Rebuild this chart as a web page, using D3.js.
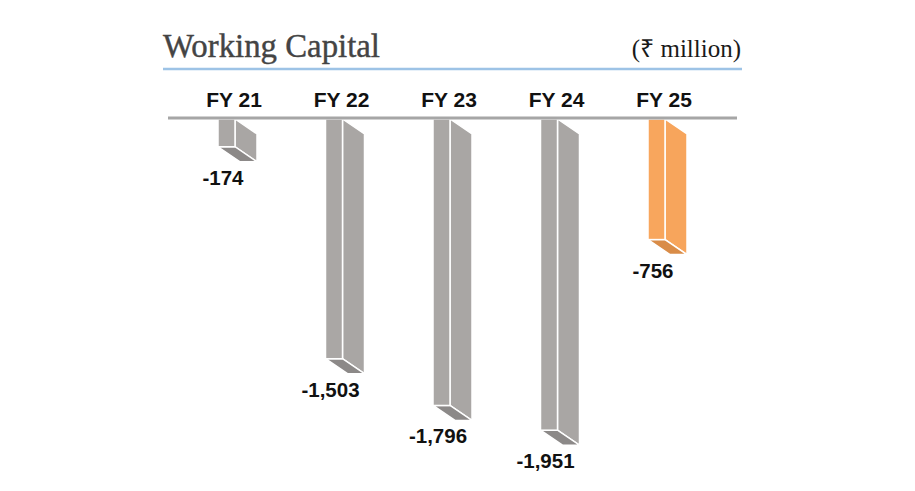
<!DOCTYPE html>
<html>
<head>
<meta charset="utf-8">
<script src="https://cdn.jsdelivr.net/npm/d3@7"></script>
<style>
  body { margin: 0; background: #fff; }
  svg { display: block; }
</style>
</head>
<body>
<svg class="chart"></svg>
<script>
// Working capital, ₹ million
var years = ["FY 21", "FY 22", "FY 23", "FY 24", "FY 25"];
var values = [-174, -1503, -1796, -1951, -756];
var valueLabels = ["-174", "-1,503", "-1,796", "-1,951", "-756"];
var highlight = "FY 25"; // the latest year is drawn in orange

var width = 915, height = 491;
var barW = 17, depthX = 22, depthY = 15; // front face width and the 3D offset

var svg = d3.select("svg.chart").attr("width", width).attr("height", height);

var x = d3.scalePoint().domain(years).range([218, 648]);
var y = d3.scaleLinear().domain([0, -2000]).range([119, 438]);

// title and unit
svg.append("text")
    .attr("x", 163).attr("y", 57)
    .attr("font-family", "Liberation Serif, serif")
    .attr("font-size", 33)
    .attr("fill", "#444")
    .attr("stroke", "#444").attr("stroke-width", 0.4)
    .attr("textLength", 217)
    .attr("lengthAdjust", "spacingAndGlyphs")
    .text("Working Capital");

svg.append("text")
    .attr("x", 741).attr("y", 57)
    .attr("text-anchor", "end")
    .attr("font-family", "Liberation Serif, serif")
    .attr("font-size", 25)
    .attr("fill", "#1a1a1a")
    .text("(₹ million)");

svg.append("line")
    .attr("x1", 163).attr("x2", 742).attr("y1", 69).attr("y2", 69)
    .attr("stroke", "#9dc3e6").attr("stroke-width", 2.5);

// category labels
svg.selectAll(".cat").data(years).enter().append("text")
    .attr("class", "cat")
    .attr("x", d => x(d) + 16).attr("y", 107)
    .attr("text-anchor", "middle")
    .attr("font-family", "Liberation Sans, Arial, sans-serif")
    .attr("font-weight", "bold")
    .attr("font-size", 21)
    .attr("fill", "#111")
    .text(d => d);

var colors = {
    grey: { front: "#aaa7a5", side: "#a9a6a4", bottom: "#8c8988" },
    orange: { front: "#f8a65d", side: "#f7a55c", bottom: "#d98c48" }
};

var bars = svg.selectAll(".bar").data(years).enter().append("g").attr("class", "bar");

bars.each(function (d, i) {
    var g = d3.select(this);
    var c = d === highlight ? colors.orange : colors.grey;
    var x0 = x(d), x1 = x0 + barW;
    var top = y(0), bot = y(values[i]);

    // side face
    g.append("polygon")
        .attr("points", [[x1, top], [x1 + depthX, top + depthY], [x1 + depthX, bot + depthY], [x1, bot]].join(" "))
        .attr("fill", c.side).attr("stroke", "#fff").attr("stroke-width", 1.5);
    // bottom face
    g.append("polygon")
        .attr("points", [[x0, bot], [x1, bot], [x1 + depthX, bot + depthY], [x0 + depthX, bot + depthY]].join(" "))
        .attr("fill", c.bottom).attr("stroke", "#fff").attr("stroke-width", 1.5);
    // front face
    g.append("rect")
        .attr("x", x0).attr("y", top).attr("width", barW).attr("height", bot - top)
        .attr("fill", c.front).attr("stroke", "#fff").attr("stroke-width", 1.5);

    g.append("text")
        .attr("x", x0 + 5).attr("y", bot + 38)
        .attr("text-anchor", "middle")
        .attr("font-family", "Liberation Sans, Arial, sans-serif")
        .attr("font-weight", "bold")
        .attr("font-size", 20.5)
        .attr("fill", "#111")
        .text(valueLabels[i]);
});

// baseline drawn over the tops of the bars
svg.append("line")
    .attr("x1", 168).attr("x2", 737).attr("y1", 118).attr("y2", 118)
    .attr("stroke", "#a6a6a6").attr("stroke-width", 3);
</script>
</body>
</html>
